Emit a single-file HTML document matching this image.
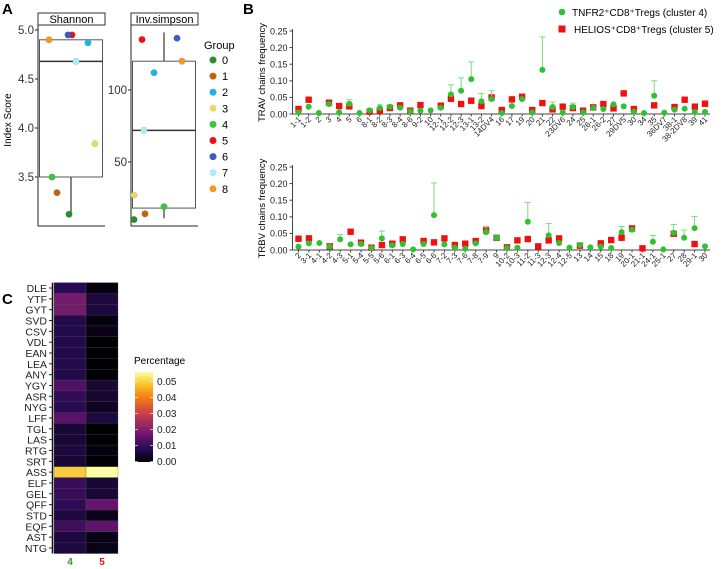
<!DOCTYPE html>
<html><head><meta charset="utf-8"><style>
body{margin:0;background:#fff;font-family:"Liberation Sans",Arial,sans-serif;}
svg{display:block}
</style></head><body>
<svg id="fig" width="722" height="569" viewBox="0 0 722 569" font-family="Liberation Sans, Arial, sans-serif">
<text x="2" y="14" font-size="15" font-weight="bold">A</text>
<text x="243" y="14" font-size="15" font-weight="bold">B</text>
<text x="2" y="304" font-size="15" font-weight="bold">C</text>
<g id="pa"></g>
<g id="pb"></g>
<g id="pc"></g>
</svg>
<script>
// ---- Panel A data ----
const groupNames=['0','1','2','3','4','5','6','7','8'];
const groupColors=['#2e8b2e','#c0640f','#1eb4ea','#e8d86a','#3cc43c','#ee1111','#3a5bc7','#a8ecf5','#ef9a26'];
const shannonVals=[3.12,3.34,4.87,3.84,3.5,4.95,4.95,4.68,4.9];
const shannonJitter=[69,57,88,95,52,72,68,76,49];
const invsimpVals=[10,14,112,27,19,135,136,72,120];
const invsimpJitter=[134,145,154,134,164,142,177,144,182];
const shannonBox=[3.5,4.68,4.9,3.12,4.9];   // q1, median, q3, whisker low, whisker high
const invsimpBox=[18,72,120,11,140];
const shannonTicks=[3.5,4.0,4.5,5.0];
const invsimpTicks=[50,100];

// ---- Panel B data ----
const travLabels=['1-1','1-2','2','3','4','5','6','8-1','8-2','8-3','8-4','8-6','9-2','10','12-1','12-2','12-3','13-1','13-2','14DV4','16','17','19','20','21','22','23DV6','24','25','26-1','26-2','27','29DV5','30','34','35','36DV7','38-1','38-2DV8','39','41'];
const travGreen=[0.005,0.022,0.003,0.03,0.005,0.031,0.003,0.011,0.018,0.022,0.019,0.008,0.01,0.011,0.019,0.059,0.07,0.105,0.038,0.045,0.003,0.024,0.045,0.005,0.133,0.021,0.005,0.021,0.005,0.018,0.015,0.029,0.023,0.007,0.003,0.055,0.004,0.013,0.016,0.006,0.006];
const travGreenErr=[null,null,null,null,null,0.043,null,null,0.028,null,null,null,null,null,null,0.088,0.109,0.157,0.062,0.07,null,null,null,null,0.232,0.036,null,0.033,null,null,null,null,null,null,null,0.1,null,null,null,null,null];
const travRed=[0.015,0.043,null,0.034,0.024,0.023,null,0.007,0.01,0.018,0.026,0.01,0.027,null,0.025,0.046,0.03,0.04,0.024,0.05,0.012,0.044,0.052,0.012,0.033,0.014,0.022,0.018,0.01,0.02,0.03,0.017,0.062,0.015,null,0.026,null,0.021,0.043,0.022,0.031];
const trbvLabels=['2','3-1','4-1','4-2','4-3','5-1','5-4','5-5','5-6','6-1','6-3','6-4','6-5','6-6','7-2','7-3','7-6','7-8','7-9','9','10-2','10-3','11-2','11-3','12-3','12-4','12-5','13','14','15','18','19','20-1','21-1','24-1','25-1','27','28','29-1','30'];
const trbvGreen=[0.01,0.02,0.021,0.01,0.032,0.017,0.018,0.006,0.035,0.014,0.018,0.002,0.018,0.105,0.017,0.007,0.004,0.02,0.054,0.037,0.006,0.007,0.085,null,0.044,0.021,0.007,0.015,0.008,0.01,0.006,0.054,0.061,null,0.025,0.002,0.052,0.037,0.066,0.011];
const trbvGreenErr=[null,null,null,null,0.047,null,null,null,0.057,null,null,null,null,0.202,null,null,null,null,0.071,0.046,null,null,0.143,null,0.08,null,null,null,null,null,null,0.071,null,null,0.044,null,0.077,0.06,0.101,null];
const trbvRed=[0.034,0.035,null,0.011,null,0.055,0.022,0.007,0.015,0.019,0.032,null,0.027,0.023,0.035,0.015,0.019,0.027,0.059,0.037,0.008,0.029,0.033,0.011,0.029,0.035,null,0.013,null,0.02,0.03,0.037,0.065,0.005,null,null,0.049,null,0.018,null];
const freqTicks=[0,0.05,0.10,0.15,0.20,0.25];
const freqTickLabels=['0.00','0.05','0.10','0.15','0.20','0.25'];

// ---- Panel C data ----
const motifs=['DLE','YTF','GYT','SVD','CSV','VDL','EAN','LEA','ANY','YGY','ASR','NYG','LFF','TGL','LAS','RTG','SRT','ASS','ELF','GEL','QFF','STD','EQF','AST','NTG'];
const heat4=[0.008,0.018,0.018,0.007,0.007,0.007,0.007,0.007,0.007,0.013,0.009,0.008,0.014,0.005,0.005,0.006,0.005,0.049,0.010,0.010,0.009,0.006,0.011,0.006,0.006];
const heat5=[0.001,0.006,0.006,0.001,0.002,0.000,0.000,0.000,0.000,0.005,0.004,0.003,0.006,0.000,0.000,0.001,0.000,0.056,0.005,0.005,0.016,0.002,0.015,0.002,0.002];
const cbTicks=[0,0.01,0.02,0.03,0.04,0.05];
const cbTickLabels=['0.00','0.01','0.02','0.03','0.04','0.05'];

const NS='http://www.w3.org/2000/svg';
function mk(tag,attrs,parent,text){const e=document.createElementNS(NS,tag);for(const k in attrs)e.setAttribute(k,attrs[k]);if(text!==undefined)e.textContent=text;parent.appendChild(e);return e;}

// ===== Panel A =====
const pa=document.getElementById('pa');
function boxPanel(title,x0,x1,yfn,vals,jit,box,ticks,tickFmt,whX,nm){
  let e=mk('rect',{x:x0,y:13,width:x1-x0,height:12,fill:'#fff',stroke:'#333','stroke-width':1},pa);
  
  
  e=mk('text',{x:(x0+x1)/2,y:23,'font-size':11,'text-anchor':'middle'},pa,title);
  
  
  mk('line',{x1:x0,y1:25,x2:x0,y2:226,stroke:'#222','stroke-width':1},pa);
  mk('line',{x1:x0,y1:226,x2:x1,y2:226,stroke:'#222','stroke-width':1},pa);
  ticks.forEach(t=>{
    const y=yfn(t);
    mk('line',{x1:x0-3,y1:y,x2:x0,y2:y,stroke:'#222'},pa);
    const tx=mk('text',{x:x0-4,y:y+4,'font-size':11.5,'text-anchor':'end',fill:'#333'},pa,tickFmt(t));
    
    
  });
  mk('line',{x1:whX,y1:yfn(box[2]),x2:whX,y2:yfn(box[4]),stroke:'#444','stroke-width':1.3},pa);
  mk('line',{x1:whX,y1:yfn(box[0]),x2:whX,y2:yfn(box[3]),stroke:'#444','stroke-width':1.3},pa);
  e=mk('rect',{x:x0+1.5,y:yfn(box[2]),width:x1-x0-4,height:yfn(box[0])-yfn(box[2]),fill:'none',stroke:'#555','stroke-width':1},pa);
  
  
  mk('line',{x1:x0+1.5,y1:yfn(box[1]),x2:x1-2.5,y2:yfn(box[1]),stroke:'#333','stroke-width':1.5},pa);
  vals.forEach((v,i)=>{
    const c=mk('circle',{cx:jit[i],cy:yfn(v),r:3.3,fill:groupColors[i],stroke:'rgba(0,0,0,0.15)','stroke-width':0.5},pa);
    
    
  });
}
boxPanel('Shannon',38,105,v=>30+(5.0-v)*98,shannonVals,shannonJitter,shannonBox,shannonTicks,t=>t.toFixed(1),71,'shannon');
boxPanel('Inv.simpson',131,198,v=>234-v*1.44,invsimpVals,invsimpJitter,invsimpBox,invsimpTicks,t=>String(t),164,'invsimpson');
let yl=mk('text',{x:0,y:0,'font-size':10,'text-anchor':'middle',transform:'translate(11,120) rotate(-90)'},pa,'Index Score');


let lg=mk('text',{x:204,y:49,'font-size':11},pa,'Group');


groupNames.forEach((g,i)=>{
  const y=60+i*16.1;
  const c=mk('circle',{cx:213,cy:y,r:3.5,fill:groupColors[i]},pa);
  
  
  mk('text',{x:222,y:y+4,'font-size':11},pa,g);
});

// ===== Panel B =====
const pb=document.getElementById('pb');
function freqPanel(labels,green,gerr,red,y0,yTop,title,nm){
  const ax=292.5, xFirst=298.5, xLast=705, xEnd=710;
  const step=(xLast-xFirst)/(labels.length-1);
  const X=i=>xFirst+i*step;
  const Y=v=>y0-(v/0.25)*(y0-yTop);
  mk('line',{x1:ax,y1:yTop-2,x2:ax,y2:y0,stroke:'#444'},pb);
  mk('line',{x1:ax,y1:y0,x2:xEnd,y2:y0,stroke:'#444'},pb);
  freqTicks.forEach((t,k)=>{
    mk('line',{x1:ax-3,y1:Y(t),x2:ax,y2:Y(t),stroke:'#444'},pb);
    const tx=mk('text',{x:ax-5,y:Y(t)+3.3,'font-size':9,'text-anchor':'end',fill:'#222'},pb,freqTickLabels[k]);
    
    
  });
  const tt=mk('text',{x:0,y:0,'font-size':9.5,'text-anchor':'middle',transform:`translate(265,${(y0+yTop)/2}) rotate(-90)`},pb,title);
  
  
  labels.forEach((l,i)=>{
    const x=X(i);
    mk('line',{x1:x,y1:y0,x2:x,y2:y0+2.5,stroke:'#444'},pb);
    const t=mk('text',{x:0,y:0,'font-size':8,'text-anchor':'end',fill:'#222',transform:`translate(${x+3},${y0+6}) rotate(-45)`},pb,l);
    
    
  });
  red.forEach((v,i)=>{
    if(v===null)return;
    const r=mk('rect',{x:X(i)-3.2,y:Y(v)-3.2,width:6.4,height:6.4,fill:'#f01010'},pb);
    
    
  });
  green.forEach((v,i)=>{
    if(v===null)return;
    if(gerr[i]!==null){
      mk('line',{x1:X(i),y1:Y(v),x2:X(i),y2:Y(gerr[i]),stroke:'#7ddc7d','stroke-width':1},pb);
      mk('line',{x1:X(i)-3,y1:Y(gerr[i]),x2:X(i)+3,y2:Y(gerr[i]),stroke:'#7ddc7d','stroke-width':1},pb);
    }
    const c=mk('circle',{cx:X(i),cy:Y(v),r:3,fill:'#2fc22f'},pb);
    
    
  });
}
freqPanel(travLabels,travGreen,travGreenErr,travRed,114,31,'TRAV chains frequency','trav');
freqPanel(trbvLabels,trbvGreen,trbvGreenErr,trbvRed,250,167,'TRBV chains frequency','trbv');
let l1=mk('circle',{cx:562,cy:12,r:3.3,fill:'#2fc22f'},pb);


mk('text',{x:572,y:16,'font-size':10},pb,'TNFR2⁺CD8⁺Tregs (cluster 4)');
let l2=mk('rect',{x:558.5,y:25.5,width:7,height:7,fill:'#f01010'},pb);


mk('text',{x:574,y:33,'font-size':10},pb,'HELIOS⁺CD8⁺Tregs (cluster 5)');

// ===== Panel C =====
const pc=document.getElementById('pc');
const cmap=[[0,0,4],[40,11,84],[101,21,110],[159,42,99],[212,72,66],[245,125,21],[250,193,39],[252,255,164]];
function col(v){let t=Math.max(0,Math.min(1,v/0.0556))*(cmap.length-1);const i=Math.min(Math.floor(t),cmap.length-2),f=t-i;const a=cmap[i],b=cmap[i+1];return `rgb(${Math.round(a[0]+(b[0]-a[0])*f)},${Math.round(a[1]+(b[1]-a[1])*f)},${Math.round(a[2]+(b[2]-a[2])*f)})`;}
const rowTop=282.6,rowH=10.83,hx0=54,hx1=86,hx2=118;
motifs.forEach((m,i)=>{
  const y=rowTop+i*rowH;
  let r=mk('rect',{x:hx0,y:y,width:hx1-hx0,height:rowH+0.2,fill:col(heat4[i]),stroke:'#555','stroke-width':0.3},pc);
  
  
  r=mk('rect',{x:hx1,y:y,width:hx2-hx1,height:rowH+0.2,fill:col(heat5[i]),stroke:'#555','stroke-width':0.3},pc);
  
  
  mk('line',{x1:49,y1:y+rowH/2,x2:52,y2:y+rowH/2,stroke:'#222'},pc);
  const t=mk('text',{x:47,y:y+rowH/2+4,'font-size':10.5,'text-anchor':'end',fill:'#222'},pc,m);
  
  
});
mk('line',{x1:52.5,y1:rowTop,x2:52.5,y2:rowTop+25*rowH,stroke:'#111','stroke-width':1.5},pc);
let c4=mk('text',{x:70,y:565,'font-size':10,'font-weight':'bold','text-anchor':'middle',fill:'#2a9d2a'},pc,'4');


let c5=mk('text',{x:102,y:565,'font-size':10,'font-weight':'bold','text-anchor':'middle',fill:'#ee1111'},pc,'5');


const defs=mk('defs',{},pc);
const gr=mk('linearGradient',{id:'cbg',x1:0,y1:1,x2:0,y2:0},defs);
cmap.forEach((c,i)=>mk('stop',{offset:i/(cmap.length-1),'stop-color':`rgb(${c[0]},${c[1]},${c[2]})`},gr));
let cb=mk('rect',{x:135,y:372,width:18,height:90,fill:'url(#cbg)'},pc);


let ct=mk('text',{x:134,y:364,'font-size':10},pc,'Percentage');


cbTicks.forEach((t,k)=>{
  const y=461.5-t*1600;
  mk('line',{x1:135,y1:y,x2:138,y2:y,stroke:'#fff','stroke-width':0.6},pc);
  mk('line',{x1:150,y1:y,x2:153,y2:y,stroke:'#fff','stroke-width':0.6},pc);
  const tx=mk('text',{x:157,y:y+3.5,'font-size':10,fill:'#222'},pc,cbTickLabels[k]);
  
  
});
</script>
</body></html>
